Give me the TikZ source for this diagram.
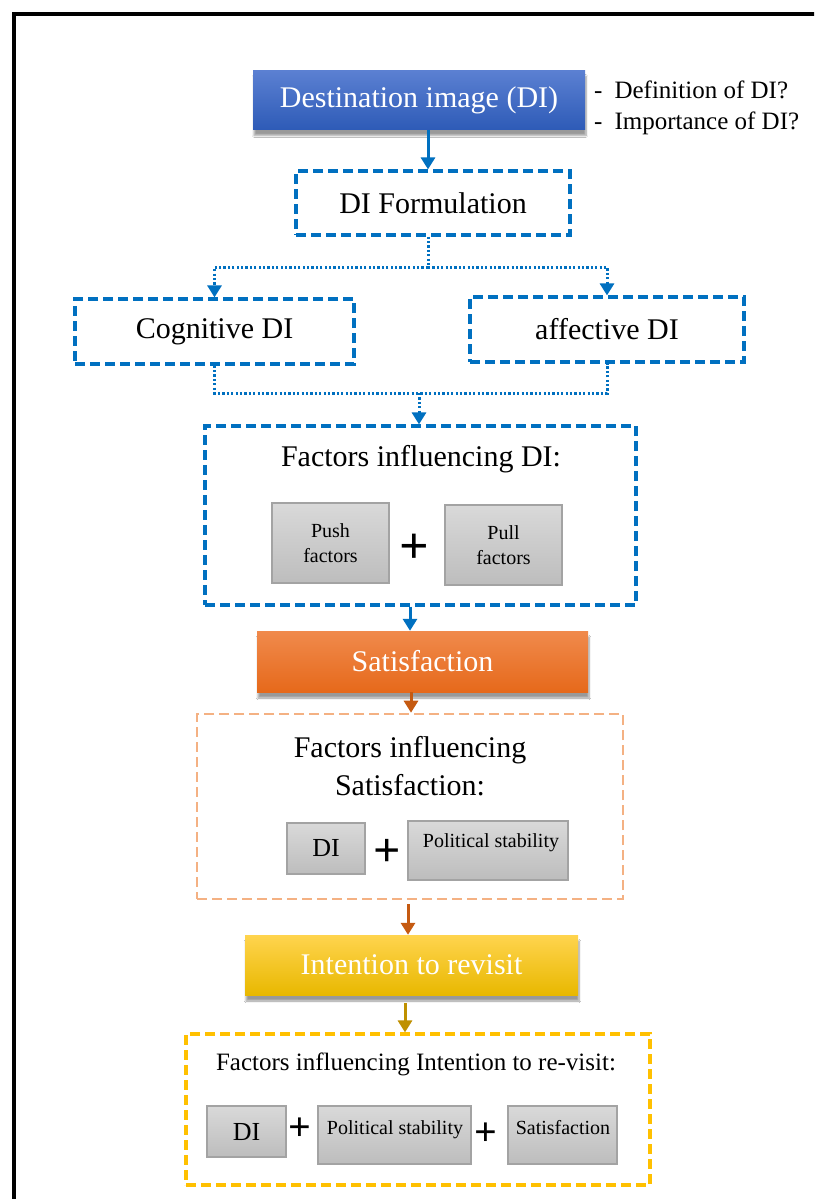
\documentclass[tikz,border=0pt]{standalone}
\usepackage{fontspec}
\setmainfont{Liberation Serif}
\usetikzlibrary{arrows.meta,shadows.blur,calc}

\definecolor{diblue}{HTML}{0070C0}
\definecolor{bluetop}{HTML}{5B80D2}
\definecolor{bluebot}{HTML}{2E5BB7}
\definecolor{orgtop}{HTML}{F08A4C}
\definecolor{orgbot}{HTML}{E6691B}
\definecolor{orgline}{HTML}{C55A11}
\definecolor{orglight}{HTML}{F4B183}
\definecolor{goldtop}{HTML}{FFD44E}
\definecolor{goldbot}{HTML}{E8B800}
\definecolor{goldline}{HTML}{BF9000}
\definecolor{golddash}{HTML}{FFC000}
\definecolor{graytop}{HTML}{D9D9D9}
\definecolor{graybot}{HTML}{BDBDBD}
\definecolor{grayline}{HTML}{A3A3A3}

\newcommand{\fsz}[1]{\fontsize{#1}{1.15\dimexpr#1pt\relax}\selectfont}

\tikzset{
  box/.style={draw=none, inner sep=0pt, align=center},
  headbox/.style={box, text=white, font=\fsz{30},
    blur shadow={shadow xshift=1pt, shadow yshift=-6pt, shadow blur steps=8, shadow opacity=40}},
  bluehead/.style={headbox, top color=bluetop, bottom color=bluebot},
  orghead/.style={headbox, top color=orgtop, bottom color=orgbot},
  goldhead/.style={headbox, top color=goldtop, bottom color=goldbot},
  dashbox/.style={box, draw=#1, line width=3.2pt, dash pattern=on 10pt off 5pt, fill=white},
  graybox/.style={box, draw=grayline, line width=1.3pt, top color=graytop, bottom color=graybot},
  ttl/.style={inner sep=0pt, align=center, font=\fsz{30}},
  small/.style={inner sep=0pt, font=\fsz{20}, align=center},
  plus/.style={inner sep=0pt, font=\fsz{#1}\bfseries},
  arr/.style={line width=3pt, draw=#1, -{Triangle[width=14pt,length=12pt]}},
  dotline/.style={line width=3pt, draw=diblue, dash pattern=on 2.2pt off 2.2pt},
  dotarr/.style={dotline, -{Triangle[width=14pt,length=12pt]}}
}

\begin{document}
\begin{tikzpicture}[x=1pt,y=-1pt]
\useasboundingbox (0,0) rectangle (814,1199);
\fill[white] (0,0) rectangle (814,1199);

% outer frame, running past the right and bottom edges
\begin{scope}
  \clip (0,0) rectangle (814,1199);
  \draw[line width=4.5pt] (14,14) rectangle (860,1240);
\end{scope}

% destination image
\node[bluehead, minimum width=332pt, minimum height=59pt] (di) at (419,100) {Destination image (DI)};
\node[inner sep=0pt, anchor=west, font=\fsz{25}, align=left] (diq) at (594,108)
  {-\hspace{12pt}Definition of DI?\\[2pt]-\hspace{12pt}Importance of DI?};

% formulation
\node[dashbox=diblue, minimum width=274pt, minimum height=64pt, font=\fsz{30}] (fo) at (433,203) {DI Formulation};
\node[dashbox=diblue, minimum width=279pt, minimum height=65pt, font=\fsz{30}] (cog) at (214.5,331.5) {Cognitive DI};
\node[dashbox=diblue, minimum width=274pt, minimum height=65pt, font=\fsz{30}] (aff) at (607,329.5) {affective DI};

% factors influencing DI
\node[dashbox=diblue, minimum width=431pt, minimum height=179pt] (fid) at (420.5,515.5) {};
\node[ttl] (fidt) at (421,459) {Factors influencing DI:};
\node[graybox, minimum width=117pt, minimum height=80pt, small] (push) at (330.5,543) {Push\\[2pt]factors};
\node[plus=52] (p1) at (414,549) {+};
\node[graybox, minimum width=117pt, minimum height=80pt, small] (pull) at (503.5,545) {Pull\\[2pt]factors};

% satisfaction
\node[orghead, minimum width=331pt, minimum height=61pt] (sat) at (422.5,661.5) {Satisfaction};
\node[dashbox=orglight, line width=2.6pt, minimum width=426pt, minimum height=185pt] (fsat) at (410,806.5) {};
\node[ttl] (fsatt) at (410,766) {Factors influencing\\[4pt]Satisfaction:};
\node[graybox, minimum width=78pt, minimum height=51pt, font=\fsz{26}] (fsdi) at (326,848.5) {DI};
\node[plus=48] (p2) at (387,853) {+};
\node[graybox, minimum width=160pt, minimum height=59pt] (fsps) at (488,850.5) {};
\node[small] (fspst) at (491,843) {Political stability};

% intention to revisit
\node[goldhead, minimum width=333pt, minimum height=60pt] (int) at (411.5,965) {Intention to revisit};
\node[dashbox=golddash, minimum width=464pt, minimum height=151pt] (fint) at (418,1109.5) {};
\node[inner sep=0pt, font=\fsz{25}] (fintt) at (416,1064) {Factors influencing Intention to re-visit:};
\node[graybox, minimum width=79pt, minimum height=51pt, font=\fsz{26}] (fidi) at (246.5,1131.5) {DI};
\node[plus=40] (p3) at (300,1129) {+};
\node[graybox, minimum width=153pt, minimum height=58pt] (fips) at (394.5,1135) {};
\node[small] (fipst) at (395,1130) {Political stability};
\node[plus=40] (p4) at (486,1134) {+};
\node[graybox, minimum width=109pt, minimum height=58pt] (fisat) at (562.5,1135) {};
\node[small] (fisatt) at (563,1128) {Satisfaction};

% connectors
\draw[arr=diblue] (di.south -| 428,0) -- (fo.north -| 428,0);

\coordinate (split) at (428,267);
\draw[dotline] (fo.south -| split) -- (split);
\draw[dotarr] (split) -| (cog.north);
\draw[dotarr] (split) -| (aff.north);

\coordinate (join) at (419,393);
\draw[dotline] (cog.south) |- (join) -| (aff.south);
\draw[dotarr] (join) -- (fid.north -| join);

\draw[arr=diblue] (fid.south -| 410,0) -- (sat.north -| 410,0);
\draw[arr=orgline] (sat.south -| 411,0) -- (fsat.north -| 411,0);
\draw[arr=orgline] ($(fsat.south -| 408,0)+(0,4)$) -- (int.north -| 408,0);
\draw[arr=goldline] ($(int.south -| 405,0)+(0,8)$) -- (fint.north -| 405,0);
\end{tikzpicture}
\end{document}
